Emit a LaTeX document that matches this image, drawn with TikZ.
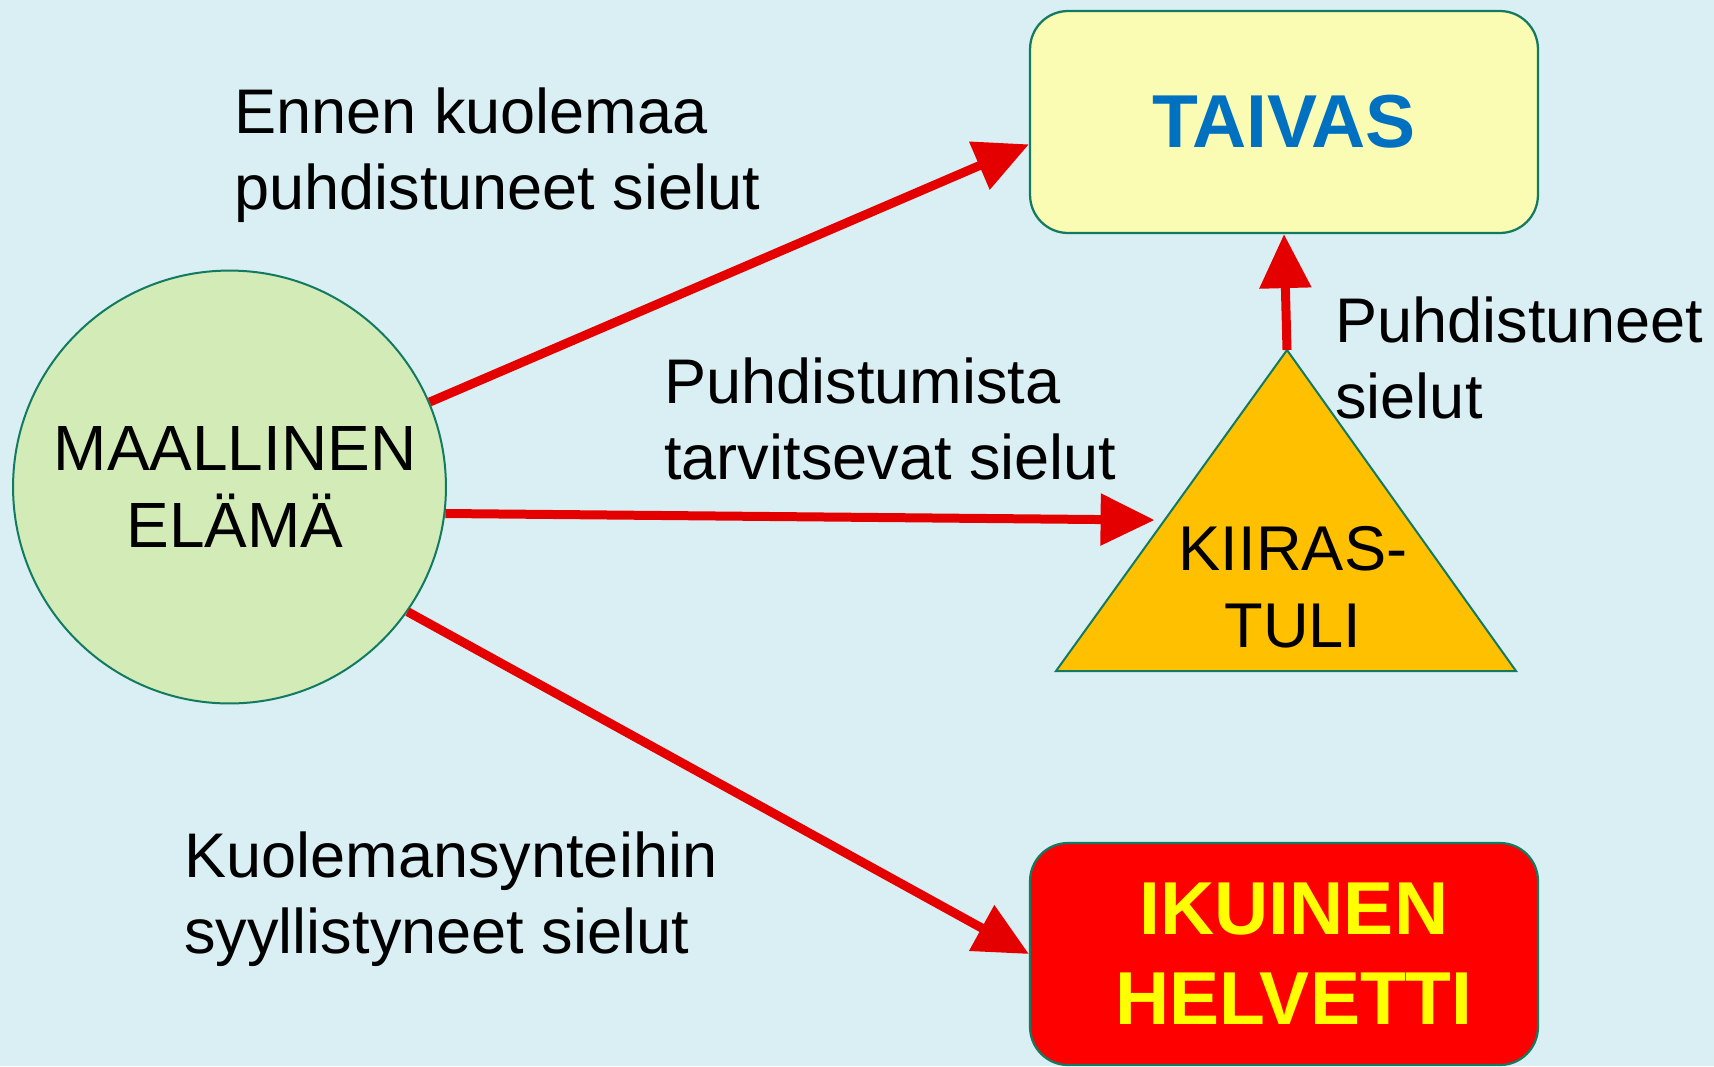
\documentclass[tikz,border=0pt]{standalone}
\usepackage{fontspec}
\setmainfont{Liberation Sans}
\usetikzlibrary{positioning, arrows.meta, calc}

\definecolor{bgblue}{HTML}{DAEFF3}
\definecolor{lifegreen}{HTML}{D2EBB7}
\definecolor{edgeteal}{HTML}{137A62}
\definecolor{heavenyellow}{HTML}{FBFCB4}
\definecolor{heavenblue}{HTML}{0070C0}
\definecolor{fireorange}{HTML}{FFC000}
\definecolor{arrowred}{HTML}{E50000}
\definecolor{hellred}{HTML}{FF0000}
\definecolor{hellyellow}{HTML}{FFFF00}

\tikzset{
  soul/.style={line width=0.18cm, arrowred, -{Triangle[length=1.08cm, width=1.0cm]}},
  place/.style={draw=edgeteal, line width=0.045cm, rounded corners=0.76cm,
    minimum width=10.16cm, minimum height=4.44cm, inner sep=0pt, align=center,
    font=\bfseries\fontsize{42.7}{51.2}\selectfont},
  caption/.style={anchor=north west, inner sep=0pt, align=left,
    font=\fontsize{35.9}{43.5}\selectfont},
}

\begin{document}
\begin{tikzpicture}[x=0.02cm, y=-0.02cm]
        \useasboundingbox (0,0) rectangle (1714,1066);
        \fill[bgblue] (0,0) rectangle (1714,1066);

        \node[circle, draw=edgeteal, line width=0.04cm, fill=lifegreen, minimum size=8.66cm,
              inner sep=0pt, align=center, font=\fontsize{36.4}{43.8}\selectfont]
              (maa) at (229.5,487) {\hspace*{0.22cm}MAALLINEN\\\hspace*{0.22cm}ELÄMÄ};

        \node[place, fill=heavenyellow, text=heavenblue] (taivas) at (1284,122) {TAIVAS};
        \node[place, fill=hellred, text=hellyellow] (helvetti) at (1284,954)
              {\hspace*{0.4cm}IKUINEN\\\hspace*{0.4cm}HELVETTI};

        % kiirastuli
        \coordinate (huippu) at (1287,350);
        \coordinate (vasen) at (1056,671);
        \coordinate (oikea) at (1516,671);
        \draw[edgeteal, line width=0.04cm, fill=fireorange] (huippu) -- (vasen) -- (oikea) -- cycle;
        \node[align=center, font=\fontsize{36}{44}\selectfont] (kiiras) at (1293,587) {KIIRAS-\\TULI};
        \coordinate (sisaan) at ($(vasen)!0.47!(huippu)$);

        \draw[soul] (maa.23) -- (taivas.185);
        \draw[soul, shorten >=0.2cm] (maa.-7) -- (sisaan);
        \draw[soul] (maa.-35) -- (helvetti.west);
        \draw[soul] (huippu) -- (taivas.south);

        \node[caption] (ennen) at (234,87) {Ennen kuolemaa\\puhdistuneet sielut};
        \node[caption] (tarvitsevat) at (664,357) {Puhdistumista\\tarvitsevat sielut};
        \node[caption] (puhtaat) at (1335,296) {Puhdistuneet\\sielut};
        \node[caption] (synnit) at (184,831) {Kuolemansynteihin\\syyllistyneet sielut};
\end{tikzpicture}
\end{document}
